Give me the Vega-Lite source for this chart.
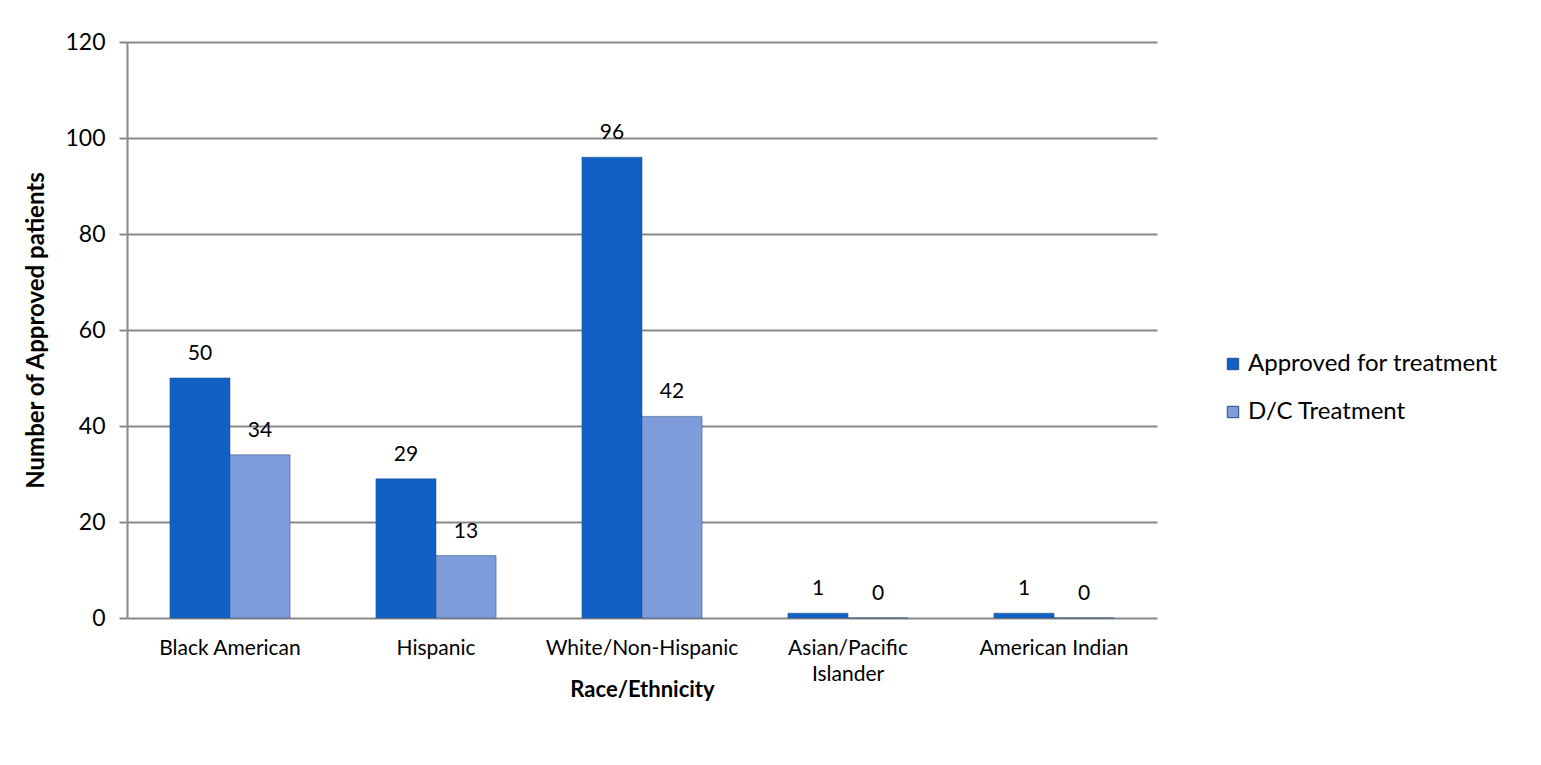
{
  "$schema": "https://vega.github.io/schema/vega-lite/v6.json",
  "width": 1030,
  "height": 576,
  "autosize": {"type": "none"},
  "padding": {"left": 127, "top": 42, "right": 384, "bottom": 147},
  "background": "white",
  "config": {
    "font": "Lato",
    "view": {"stroke": null}
  },
  "data": {
    "values": [
      {"group": "Black American", "series": "Approved for treatment", "value": 50},
      {"group": "Black American", "series": "D/C Treatment", "value": 34},
      {"group": "Hispanic", "series": "Approved for treatment", "value": 29},
      {"group": "Hispanic", "series": "D/C Treatment", "value": 13},
      {"group": "White/Non-Hispanic", "series": "Approved for treatment", "value": 96},
      {"group": "White/Non-Hispanic", "series": "D/C Treatment", "value": 42},
      {"group": "Asian/Pacific Islander", "series": "Approved for treatment", "value": 1},
      {"group": "Asian/Pacific Islander", "series": "D/C Treatment", "value": 0},
      {"group": "American Indian", "series": "Approved for treatment", "value": 1},
      {"group": "American Indian", "series": "D/C Treatment", "value": 0}
    ]
  },
  "encoding": {
    "x": {
      "field": "group",
      "type": "nominal",
      "sort": null,
      "scale": {"paddingInner": 0.417, "paddingOuter": 0.2085},
      "axis": {
        "title": "Race/Ethnicity",
        "titleFontSize": 22,
        "titleFontWeight": "bold",
        "titleColor": "black",
        "titlePadding": -5,
        "labelAngle": 0,
        "labelFontSize": 21,
        "labelColor": "black",
        "labelPadding": 19,
        "labelLineHeight": 26,
        "labelLimit": 300,
        "labelExpr": "datum.value == 'Asian/Pacific Islander' ? ['Asian/Pacific', 'Islander'] : datum.value",
        "domain": false,
        "ticks": false
      }
    },
    "xOffset": {"field": "series", "type": "nominal", "sort": ["Approved for treatment", "D/C Treatment"]},
    "y": {
      "field": "value",
      "type": "quantitative",
      "scale": {"domain": [0, 120], "nice": false},
      "axis": {
        "title": "Number of Approved patients",
        "titleFontSize": 24,
        "titleFontWeight": "bold",
        "titleColor": "black",
        "titlePadding": 16,
        "values": [0, 20, 40, 60, 80, 100, 120],
        "labelFontSize": 23,
        "labelColor": "black",
        "labelPadding": 14,
        "tickSize": 8,
        "tickColor": "#888888",
        "tickWidth": 2,
        "domainColor": "#888888",
        "domainWidth": 2,
        "gridColor": "#888888",
        "gridWidth": 2,
        "gridOpacity": 1
      }
    }
  },
  "layer": [
    {
      "mark": {"type": "bar", "stroke": "#2a4a80", "strokeWidth": 1, "strokeOpacity": 0.5},
      "encoding": {
        "color": {
          "field": "series",
          "type": "nominal",
          "scale": {"domain": ["Approved for treatment", "D/C Treatment"], "range": ["#1160C6", "#7E9CDA"]},
          "legend": {
            "title": null,
            "orient": "none",
            "legendX": 1094,
            "legendY": 310,
            "symbolType": "square",
            "symbolSize": 130,
            "symbolStrokeColor": "#2a4a80",
            "symbolStrokeWidth": 1,
            "labelFontSize": 24,
            "labelColor": "black",
            "labelOffset": 3,
            "labelLimit": 400,
            "rowPadding": 24
          }
        }
      }
    },
    {
      "mark": {"type": "text", "baseline": "bottom", "dy": -14, "fontSize": 21, "color": "black"},
      "encoding": {
        "text": {"field": "value", "type": "quantitative"}
      }
    }
  ]
}
